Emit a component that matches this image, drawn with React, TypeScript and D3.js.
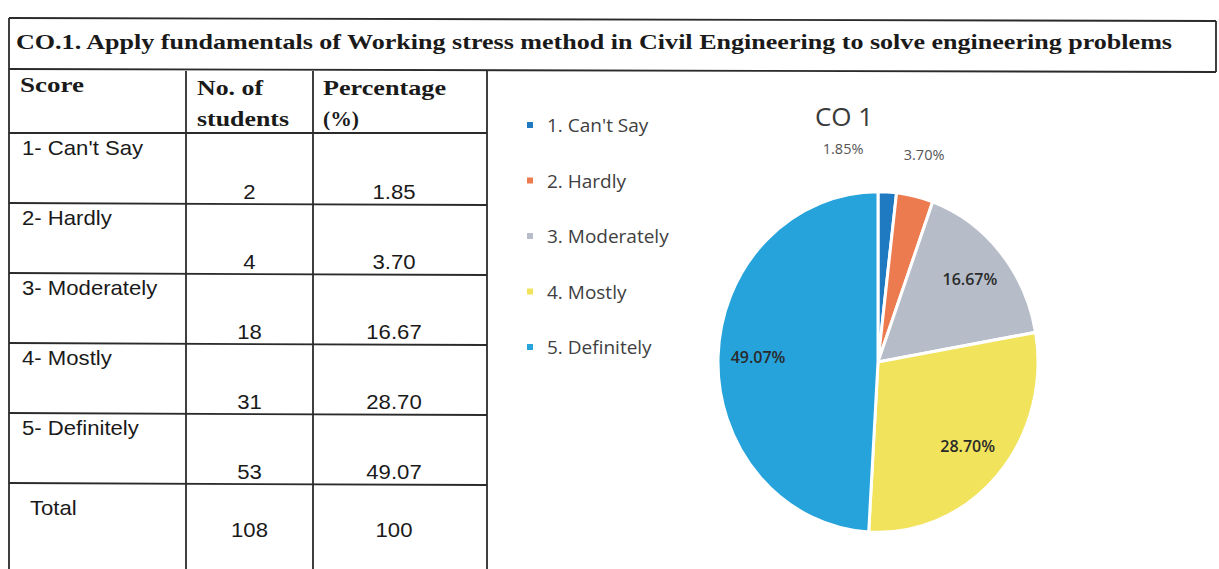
import * as d3 from "d3";

const title = "CO.1. Apply fundamentals of Working stress method in Civil Engineering to solve engineering problems";
const scoreLabels = ["1- Can't Say", "2- Hardly", "3- Moderately", "4- Mostly", "5- Definitely"];
const legendLabels = ["1. Can't Say", "2. Hardly", "3. Moderately", "4. Mostly", "5. Definitely"];
const students = [2, 4, 18, 31, 53];
const percentages = [1.85, 3.7, 16.67, 28.7, 49.07];
const totalStudents = "108";
const totalPct = "100";
const sliceColors = ["#1f7ac2", "#ec7b4f", "#b6bdc9", "#f1e35c", "#27a3dc"];
const chartTitle = "CO 1";

const W = 1219;
const H = 569;
const ink = "#2b2b2b";
const serif = "'Liberation Serif', 'Times New Roman', serif";
const sans = "'Liberation Sans', Arial, sans-serif";
const calibri = "'Open Sans', 'Noto Sans', sans-serif";

// table geometry
const left = 9;
const colX = [left, 186, 313, 487];
const titleTop = 18;
const titleBottom = 71;
const headBottom = 133;

// scanned text is a bit wider than the fonts here
const stretch = (x: number, y: number, k = 1.08) => `translate(${x},${y}) scale(${k},1)`;

export default function App() {
  const rows = [...scoreLabels, "Total"];
  const y = d3.scaleBand<number>().domain(d3.range(rows.length)).range([headBottom, headBottom + 70 * rows.length]);

  // pie
  const cx = 878;
  const cy = 362;
  const r = 160;
  const sy = 1.065;
  const arcs = d3.pie<number>().sort(null).value(d => d)(percentages);
  const arc = d3.arc<d3.PieArcDatum<number>>().innerRadius(0).outerRadius(r);
  const inner = d3.arc<d3.PieArcDatum<number>>().innerRadius(120).outerRadius(120);
  const outer = d3.arc<d3.PieArcDatum<number>>().innerRadius(200).outerRadius(200);

  const labels = arcs.map((a, i) => {
    const isOut = percentages[i] < 5;
    const [lx, ly] = (isOut ? outer : inner).centroid(a);
    return { i, x: cx + lx, y: cy + ly * sy, out: isOut, text: percentages[i].toFixed(2) + "%" };
  });
  // push overlapping outside labels apart (earlier one goes left)
  const outs = labels.filter(l => l.out);
  const minGap = 81;
  for (let k = outs.length - 2; k >= 0; k--) {
    if (outs[k + 1].x - outs[k].x < minGap) outs[k].x = outs[k + 1].x - minGap;
  }

  const legendY = d3.scalePoint<number>().domain(d3.range(legendLabels.length)).range([125, 347]);

  const line = { stroke: ink, strokeWidth: 1.8 };

  return (
    <svg width={W} height={H} style={{ position: "absolute", left: 0, top: 0, background: "#fff" }}>
      {/* frame */}
      <line x1={left} y1={titleTop} x2={1216} y2={titleTop + 3} {...line} />
      <line x1={left} y1={titleBottom - 2} x2={1216} y2={titleBottom + 1} {...line} />
      <line x1={1216} y1={titleTop + 3} x2={1216} y2={titleBottom + 1} {...line} />
      <line x1={left} y1={titleTop} x2={left} y2={H} {...line} />
      {colX.slice(1).map(x => (
        <line key={x} x1={x} y1={titleBottom} x2={x} y2={H} {...line} />
      ))}
      <line x1={left} y1={headBottom} x2={colX[3]} y2={headBottom} {...line} />
      {rows.slice(0, -1).map((_, i) => (
        <line key={i} x1={left} y1={y(i)! + y.bandwidth()} x2={colX[3]} y2={y(i)! + y.bandwidth() + 2} {...line} />
      ))}

      <text x={16} y={49} fontFamily={serif} fontWeight="bold" fontSize={21} fill="#1a1a1a"
        textLength={1156} lengthAdjust="spacingAndGlyphs">{title}</text>

      {/* header cells */}
      <g fontFamily={serif} fontWeight="bold" fontSize={21} fill="#1a1a1a">
        <text x={20} y={92} textLength={64} lengthAdjust="spacingAndGlyphs">Score</text>
        <text x={197} y={95} textLength={66} lengthAdjust="spacingAndGlyphs">No. of</text>
        <text x={197} y={126} textLength={92} lengthAdjust="spacingAndGlyphs">students</text>
        <text x={323} y={95} textLength={123} lengthAdjust="spacingAndGlyphs">Percentage</text>
        <text x={323} y={126} textLength={36} lengthAdjust="spacingAndGlyphs">(%)</text>
      </g>

      {/* body */}
      <g fontFamily={sans} fontSize={20.5} fill="#1a1a1a">
        {scoreLabels.map((s, i) => (
          <g key={s}>
            <text transform={stretch(22, y(i)! + 22)}>{s}</text>
            <text transform={stretch((colX[1] + colX[2]) / 2, y(i)! + y.bandwidth() - 4)} textAnchor="middle">{students[i]}</text>
            <text transform={stretch((colX[2] + colX[3]) / 2 - 6, y(i)! + y.bandwidth() - 4)} textAnchor="middle">{percentages[i].toFixed(2)}</text>
          </g>
        ))}
        <text transform={stretch(30, y(5)! + 32)}>Total</text>
        <text transform={stretch((colX[1] + colX[2]) / 2, y(5)! + 54)} textAnchor="middle">{totalStudents}</text>
        <text transform={stretch((colX[2] + colX[3]) / 2 - 6, y(5)! + 54)} textAnchor="middle">{totalPct}</text>
      </g>

      {/* legend */}
      <g fontFamily={calibri} fontSize={19} fill="#404040">
        {legendLabels.map((l, i) => (
          <g key={l} transform={`translate(527,${legendY(i)})`}>
            <rect x={0} y={-3} width={6} height={6} fill={sliceColors[i]} />
            <text x={20} y={7}>{l}</text>
          </g>
        ))}
      </g>

      <text x={844} y={126} textAnchor="middle" fontFamily={calibri} fontSize={26} fill="#3a3a3a">{chartTitle}</text>

      {/* pie */}
      <g transform={`translate(${cx},${cy}) scale(1,${sy})`}>
        {arcs.map((a, i) => (
          <path key={i} d={arc(a)!} fill={sliceColors[i]} stroke="#fff" strokeWidth={3} />
        ))}
      </g>
      <g fontFamily={calibri}>
        {labels.map(l => (
          <text key={l.i} x={l.x} y={l.y + 5} textAnchor="middle"
            fontSize={l.out ? 14.5 : 16} fill={l.out ? "#555" : "#2a2a2a"}
            fontWeight={l.out ? "normal" : "600"}>{l.text}</text>
        ))}
      </g>
    </svg>
  );
}
